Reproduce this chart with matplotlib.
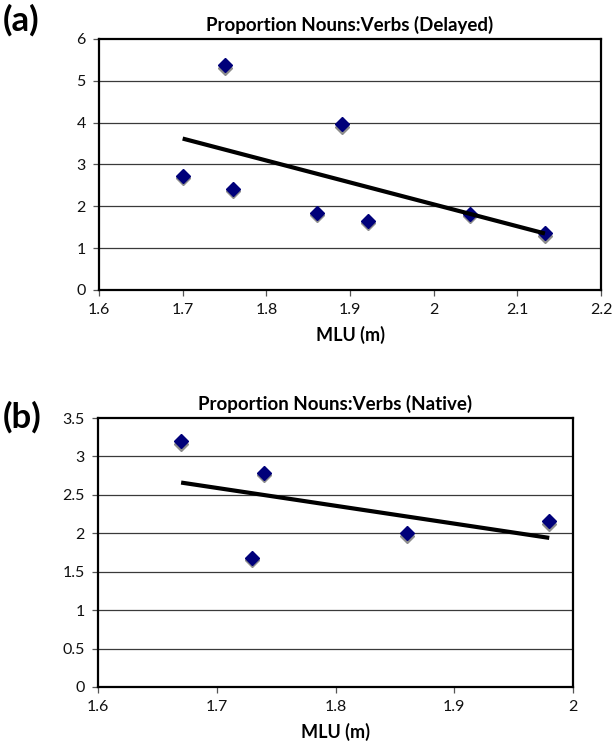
import matplotlib
matplotlib.use("Agg")
import matplotlib.pyplot as plt
import matplotlib.transforms as mtransforms

plt.rcParams["font.family"] = ["Lato", "DejaVu Sans"]

# (a) Delayed
delayed_mlu = [1.70, 1.75, 1.76, 1.86, 1.89, 1.922, 2.044, 2.133]
delayed_ratio = [2.73, 5.38, 2.42, 1.85, 3.97, 1.66, 1.82, 1.36]
delayed_trend_x = [1.70, 2.133]
delayed_trend_y = [3.62, 1.35]

# (b) Native
native_mlu = [1.67, 1.73, 1.74, 1.86, 1.98]
native_ratio = [3.20, 1.68, 2.79, 2.00, 2.16]
native_trend_x = [1.67, 1.98]
native_trend_y = [2.66, 1.94]

W, H = 612, 747
fig = plt.figure(figsize=(W / 100, H / 100), dpi=100)


def frac(left, top, right, bottom):
    return [left / W, 1 - bottom / H, (right - left) / W, (bottom - top) / H]


def panel(ax, xs, ys, tx, ty, title, xlim, xticks, ylim, yticks, ylabels, xlabels):
    ax.set_xlim(*xlim)
    ax.set_ylim(*ylim)
    ax.set_xticks(xticks)
    ax.set_xticklabels(xlabels)
    ax.set_yticks(yticks)
    ax.set_yticklabels(ylabels)
    for y in yticks[1:-1]:
        ax.axhline(y, color="#3a3a3a", lw=0.9, zorder=1)
    for s in ax.spines.values():
        s.set_linewidth(1.6)
        s.set_color("black")
    ax.tick_params(direction="out", length=4.5, width=0.9, labelsize=11.5,
                   color="#555555", labelcolor="#111111", pad=5)
    # grey drop shadow under each marker, like the spreadsheet original
    shadow = mtransforms.offset_copy(ax.transData, fig=fig, x=0, y=-2.6, units="dots")
    ax.plot(xs, ys, ls="none", marker="D", ms=7.5, mfc="#8c8c8c", mec="#8c8c8c",
            transform=shadow, zorder=3, clip_on=False)
    ax.plot(xs, ys, ls="none", marker="D", ms=7.5, mfc="#00007a", mec="#00007a",
            zorder=4, clip_on=False)
    ax.plot(tx, ty, color="black", lw=3, zorder=5, solid_capstyle="butt")
    ax.set_title(title, fontsize=13.5, fontweight="bold", pad=6)
    ax.set_xlabel("MLU (m)", fontsize=13, fontweight="bold", labelpad=6)


ax1 = fig.add_axes(frac(99, 39, 601, 290))
panel(ax1, delayed_mlu, delayed_ratio, delayed_trend_x, delayed_trend_y,
      "Proportion Nouns:Verbs (Delayed)", (1.6, 2.2),
      [1.6, 1.7, 1.8, 1.9, 2.0, 2.1, 2.2], (0, 6), [0, 1, 2, 3, 4, 5, 6],
      ["0", "1", "2", "3", "4", "5", "6"],
      ["1.6", "1.7", "1.8", "1.9", "2", "2.1", "2.2"])

ax2 = fig.add_axes(frac(98, 418, 573, 687))
panel(ax2, native_mlu, native_ratio, native_trend_x, native_trend_y,
      "Proportion Nouns:Verbs (Native)", (1.6, 2.0),
      [1.6, 1.7, 1.8, 1.9, 2.0], (0, 3.5), [0, 0.5, 1, 1.5, 2, 2.5, 3, 3.5],
      ["0", "0.5", "1", "1.5", "2", "2.5", "3", "3.5"],
      ["1.6", "1.7", "1.8", "1.9", "2"])

fig.text(3 / W, 1 - 20 / H, "(a)", fontsize=25, fontweight="bold", va="center", ha="left")
fig.text(3 / W, 1 - 417 / H, "(b)", fontsize=25, fontweight="bold", va="center", ha="left")

fig.savefig("out.png", dpi=100)
